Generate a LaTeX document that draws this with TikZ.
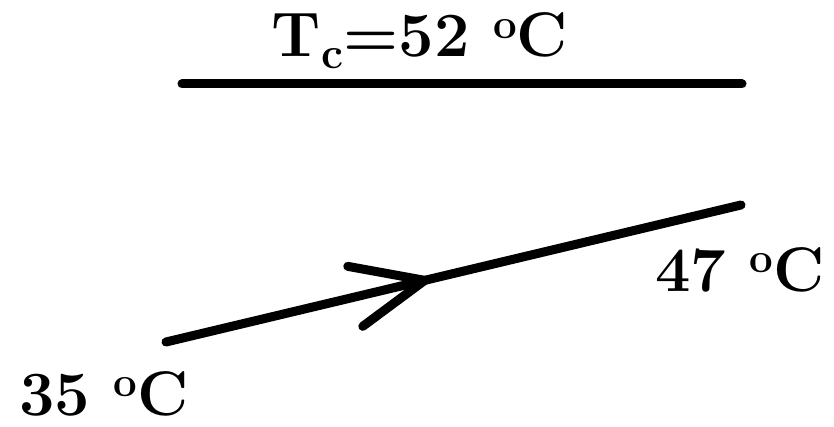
\documentclass[tikz,border=0pt]{standalone}
\usepackage{fontspec}
\usetikzlibrary{calc}
\newcommand{\dego}{\raisebox{0.3em}{\fontsize{42}{44}\selectfont\bfseries o}}
\begin{document}
\begin{tikzpicture}[x=1pt,y=-1pt,
  thick line/.style={line width=9pt,line cap=round},
  label text/.style={font=\fontsize{63}{70}\selectfont\bfseries,inner sep=0pt}]
\useasboundingbox (0,0) rectangle (834,427);
% top line
\coordinate (t1) at (182,84);
\coordinate (t2) at (742,84);
\draw[thick line] (t1) -- (t2);
% lower line
\coordinate (a) at (166,342);
\coordinate (b) at (741,205);
\draw[thick line] (a) -- (b) coordinate[pos=0.45] (tip);
\draw[thick line,line join=round] ($(tip)+(-77,-14)$) -- (tip) -- ($(tip)+(-62,46)$);
% texts
\node[label text,anchor=base] (tc) at (420,57) {T\textsubscript{c}=52 \dego C};
\node[label text,anchor=base] (t35) at (104,415) {35 \dego C};
\node[label text,anchor=base] (t47) at (740,291) {47 \dego C};
\end{tikzpicture}
\end{document}
